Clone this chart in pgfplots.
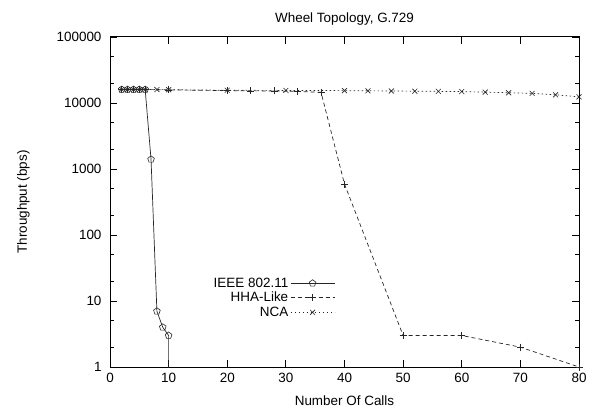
\documentclass[border=0pt]{standalone}
\usepackage{pgfplots}
\pgfplotsset{compat=1.18}
\usepackage{fontspec}
\setmainfont{Liberation Sans}

% IEEE 802.11 throughput; the last call count drops to zero
\pgfplotstableread{
x y
2 16000
3 16000
4 16000
5 16000
6 16000
7 1400
8 7
9 4
10 3
10 0.001
}\ieee

\pgfplotstableread{
x y
2 16000
3 16000
4 16000
5 16000
6 16000
10 15800
20 15400
24 15300
28 15200
32 15000
36 14500
40 590
50 3
60 3
70 2
80 1
}\hha

\pgfplotstableread{
x y
2 16000
3 16000
4 16000
5 16000
6 16000
8 16000
10 15900
20 15600
30 15500
40 15400
44 15300
48 15200
52 15100
56 15000
60 14900
64 14600
68 14300
72 14000
76 13300
80 12400
}\nca

\newcommand\chartfont{\fontsize{13.5}{16}\selectfont}

\begin{document}
\begin{tikzpicture}[x=1bp,y=1bp]
\path[use as bounding box] (0,0) rectangle (596,416);
\begin{axis}[
  at={(110bp,49bp)}, anchor=south west,
  scale only axis,
  width=469bp, height=330bp,
  ymode=log,
  xmin=0, xmax=80, ymin=1, ymax=100000,
  xtick={0,10,...,80},
  ytick={1,10,100,1000,10000,100000},
  yticklabels={1,10,100,1000,10000,100000},
  minor ytick={2,5,20,50,200,500,2000,5000,20000,50000},
  tick align=inside,
  major tick length=7bp,
  minor tick length=4bp,
  tick style={black, line width=0.8pt},
  axis line style={line width=1pt},
  every tick label/.append style={font=\chartfont},
  xticklabel style={yshift=-3bp},
  yticklabel style={xshift=-5bp},
  /pgf/number format/assume math mode=true,
  xlabel={Number Of Calls},
  ylabel={Throughput (bps)},
  label style={font=\chartfont},
  xlabel style={yshift=-6bp},
  ylabel style={yshift=20bp},
  title={Wheel Topology, G.729},
  title style={font=\chartfont, yshift=2bp},
  clip=true,
  legend style={at={(0.48,0.277)}, anchor=north east, draw=none, fill=none,
    font=\chartfont, row sep=-0.5bp, inner sep=0pt},
  legend cell align=right,
  legend plot pos=right,
  legend image code/.code={
    \draw[#1, mark=none] (0bp,0bp) -- (44bp,0bp);
    \path plot[#1] coordinates {(22bp,0bp)};
  },
]
\addplot[black!85, line width=0.7pt, mark=pentagon, mark size=3.5bp,
  mark options={solid, line width=0.6pt}] table {\ieee};
\addlegendentry{IEEE 802.11}
\addplot[black!85, line width=0.7pt, dash pattern=on 4bp off 3bp, mark=+, mark size=3.5bp,
  mark options={solid, line width=0.6pt}] table {\hha};
\addlegendentry{HHA-Like}
\addplot[black!85, line width=0.7pt, dash pattern=on 1.5bp off 2.5bp, mark=x, mark size=3.5bp,
  mark options={solid, line width=0.6pt}] table {\nca};
\addlegendentry{NCA}
\end{axis}
\end{tikzpicture}
\end{document}
